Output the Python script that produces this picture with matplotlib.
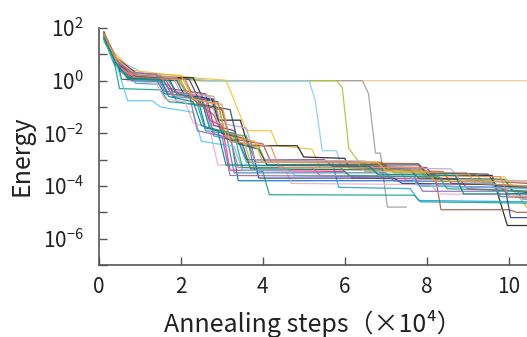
import numpy as np
import matplotlib
matplotlib.use("Agg")
import matplotlib.pyplot as plt
from matplotlib.ticker import FixedLocator, FuncFormatter

# Best energy of each annealing run: (steps x 1e4, log10 energy) breakpoints
run_01 = [(0.12, 1.7), (0.4, 0.9), (0.8, 0.3), (1.6, 0.1), (2.4, 0.0), (10.5, 0.0)]
run_02 = [(0.12, 1.75), (0.45, 0.6), (1.0, 0.15), (2.2, 0.05), (2.5, 0.0), (6.43, 0.0),
          (6.58, -0.49), (6.75, -2.75), (6.87, -2.75), (7.04, -4.8), (7.5, -4.8)]
run_03 = [(0.12, 1.6), (0.45, 0.7), (1.0, 0.2), (2.0, 0.1), (2.6, 0.0), (5.8, 0.0),
          (5.94, -0.27), (6.1, -2.58), (6.38, -3.15), (6.9, -3.2), (7.05, -3.4),
          (7.85, -3.45), (8.0, -3.7), (9.9, -3.75), (10.5, -4.9)]
run_04 = [(0.12, 1.7), (0.45, 0.8), (1.2, 0.2), (2.3, 0.08), (2.7, 0.0), (5.13, 0.0),
          (5.28, -0.76), (5.45, -2.66), (5.8, -2.66), (5.9, -3.2), (7.3, -3.3),
          (7.5, -3.8), (9.5, -3.85), (9.7, -4.1), (10.5, -4.1)]
run_05 = [(0.12, 1.85), (0.35, 1.1), (0.8, 0.4), (1.8, 0.2), (2.4, 0.1), (3.1, 0.02),
          (3.6, -1.9), (4.2, -1.9), (4.35, -2.47), (5.2, -2.6), (5.4, -3.3),
          (7.8, -3.35), (8.0, -3.6), (9.9, -3.65), (10.1, -4.0), (10.5, -4.05)]
run_06 = [(0.12, 1.85), (0.4, 0.6), (0.8, 0.15), (2.3, 0.11), (2.54, -0.68), (2.76, -0.72),
          (2.9, -1.5), (3.45, -1.5), (3.64, -2.47), (4.84, -2.47), (5.0, -2.9),
          (6.0, -2.95), (6.1, -3.3), (7.9, -3.35), (8.05, -3.6), (9.6, -3.6),
          (9.97, -5.5), (10.5, -5.5)]
run_07 = [(0.12, 1.7), (0.45, 0.5), (0.7, 0.1), (1.4, 0.05), (1.6, -0.5), (2.4, -0.6),
          (2.6, -1.8), (3.2, -2.0), (3.4, -3.8), (7.7, -3.8), (7.9, -4.0),
          (9.8, -4.05), (10.0, -4.3), (10.5, -4.3)]
run_08 = [(0.12, 1.6), (0.5, 0.4), (0.9, 0.2), (1.9, 0.1), (2.2, -0.6), (2.8, -1.3),
          (3.0, -2.0), (3.6, -2.2), (3.8, -3.0), (6.9, -3.1), (7.1, -3.4),
          (8.4, -3.45), (8.6, -3.9), (10.5, -4.0)]
run_09 = [(0.12, 1.8), (0.4, 0.9), (0.9, 0.3), (1.5, 0.2), (1.7, -0.3), (2.6, -0.5),
          (2.8, -1.7), (3.3, -1.9), (3.6, -3.0), (5.5, -3.0), (5.7, -3.25),
          (8.0, -3.3), (8.2, -3.7), (10.5, -3.9)]
run_10 = [(0.12, 1.5), (0.45, 0.6), (0.8, 0.1), (2.0, 0.0), (2.3, -0.9), (3.0, -1.1),
          (3.2, -2.3), (3.9, -2.5), (4.1, -3.2), (7.0, -3.2), (7.2, -3.5),
          (9.2, -3.55), (9.4, -3.9), (10.5, -4.1)]
run_11 = [(0.12, 1.7), (0.5, 0.4), (0.9, -0.1), (1.7, -0.15), (1.9, -0.8), (2.6, -1.0),
          (2.8, -2.1), (3.4, -2.3), (3.6, -3.1), (5.7, -3.1), (5.85, -4.05),
          (7.6, -4.1), (7.8, -4.55), (10.5, -4.6)]
run_12 = [(0.12, 1.65), (0.45, 0.6), (0.9, 0.15), (2.1, 0.05), (2.4, -0.9), (3.0, -1.1),
          (3.2, -2.2), (4.0, -2.4), (4.2, -3.1), (7.8, -3.15), (8.0, -3.5),
          (8.2, -3.55), (8.35, -4.9), (10.0, -4.9), (10.2, -5.0), (10.5, -5.0)]
run_13 = [(0.12, 1.6), (0.4, 0.5), (0.5, -0.3), (1.5, -0.35), (1.7, -0.8), (2.4, -0.9),
          (2.6, -1.9), (3.6, -2.1), (3.8, -3.4), (4.0, -3.45), (4.16, -4.33),
          (7.7, -4.35), (7.85, -4.6), (10.5, -4.65)]
run_14 = [(0.12, 1.75), (0.45, 0.7), (0.8, 0.2), (1.6, 0.1), (1.8, -0.4), (2.5, -0.6),
          (2.7, -1.5), (3.0, -1.7), (3.2, -3.4), (6.0, -3.45), (6.2, -3.7),
          (8.8, -3.75), (9.0, -4.1), (10.5, -4.2)]
run_15 = [(0.12, 1.7), (0.4, 0.8), (0.7, 0.0), (1.4, -0.1), (1.6, -0.7), (2.1, -0.8),
          (2.3, -1.6), (2.7, -1.8), (2.9, -3.2), (4.5, -3.25), (4.7, -3.9),
          (8.1, -3.95), (8.3, -4.3), (10.5, -4.35)]
run_16 = [(0.12, 1.6), (0.45, 0.7), (0.55, 0.05), (1.9, 0.0), (2.1, -0.6), (2.9, -0.8),
          (3.1, -2.2), (3.5, -2.4), (3.7, -3.35), (7.6, -3.4), (7.8, -3.7),
          (9.9, -3.75), (10.1, -4.2), (10.5, -4.25)]
run_17 = [(0.12, 1.8), (0.5, 0.6), (0.9, 0.2), (1.7, 0.1), (1.9, -0.5), (2.8, -0.7),
          (3.0, -2.0), (3.7, -2.3), (3.9, -3.7), (7.2, -3.7), (7.4, -3.9),
          (9.9, -3.95), (10.05, -5.2), (10.5, -5.2)]
run_18 = [(0.12, 1.7), (0.4, 0.9), (0.8, 0.25), (1.8, 0.15), (2.0, -0.5), (2.7, -0.6),
          (2.9, -1.6), (3.6, -1.8), (3.8, -3.0), (6.5, -3.05), (6.7, -3.3),
          (8.6, -3.35), (8.8, -3.75), (10.5, -3.8)]
run_19 = [(0.12, 1.8), (0.45, 0.7), (0.9, 0.2), (2.2, 0.05), (2.5, -0.9), (3.2, -1.1),
          (3.4, -2.4), (3.9, -2.6), (4.1, -3.2), (7.8, -3.2), (8.0, -3.5),
          (9.5, -3.55), (9.7, -4.0), (10.5, -4.05)]
run_20 = [(0.12, 1.65), (0.5, 0.5), (0.8, 0.0), (1.6, -0.05), (1.8, -0.6), (2.5, -0.7),
          (2.7, -1.8), (3.1, -2.0), (3.3, -3.5), (7.0, -3.5), (7.2, -3.8),
          (9.6, -3.85), (9.8, -4.4), (10.5, -4.45)]
run_21 = [(0.12, 1.7), (0.45, 0.6), (0.8, 0.1), (1.5, 0.05), (1.7, -0.5), (2.6, -0.7),
          (2.8, -2.0), (3.2, -2.2), (3.4, -3.3), (5.2, -3.3), (5.4, -3.6),
          (8.1, -3.65), (8.3, -4.0), (10.5, -4.1)]
run_22 = [(0.12, 1.8), (0.4, 0.9), (0.8, 0.3), (2.0, 0.2), (2.3, -0.7), (2.9, -0.9),
          (3.1, -2.1), (3.8, -2.3), (4.0, -3.1), (6.8, -3.1), (7.0, -3.4),
          (8.0, -3.45), (8.2, -3.8), (10.5, -3.85)]
run_23 = [(0.12, 1.6), (0.45, 0.5), (0.7, -0.76), (1.3, -0.76), (1.5, -1.0), (2.3, -1.2),
          (2.5, -2.3), (3.3, -2.5), (3.5, -3.4), (4.6, -3.4), (4.8, -3.6),
          (7.6, -3.65), (7.8, -4.0), (10.5, -4.1)]
run_24 = [(0.12, 1.7), (0.45, 0.7), (0.9, 0.2), (1.9, 0.1), (2.1, -0.4), (2.8, -0.6),
          (3.0, -1.9), (3.5, -2.1), (3.7, -3.1), (6.3, -3.1), (6.5, -3.45),
          (9.0, -3.5), (9.2, -3.9), (10.5, -4.0)]
run_25 = [(0.12, 1.75), (0.4, 0.8), (0.8, 0.3), (1.4, 0.25), (1.6, -0.4), (2.2, -0.5),
          (2.4, -1.9), (3.0, -2.1), (3.2, -3.6), (7.7, -3.65), (7.9, -4.2),
          (10.2, -4.2), (10.35, -4.5), (10.5, -4.5)]
run_26 = [(0.12, 1.6), (0.45, 0.6), (0.8, 0.05), (1.7, 0.0), (1.9, -0.5), (2.5, -0.7),
          (2.7, -1.8), (3.3, -2.0), (3.5, -3.3), (5.9, -3.3), (6.1, -3.6),
          (8.3, -3.65), (8.5, -4.1), (10.5, -4.2)]
run_27 = [(0.12, 1.7), (0.5, 0.5), (0.9, 0.1), (2.1, 0.05), (2.3, -0.7), (3.0, -0.9),
          (3.2, -2.3), (4.2, -2.5), (4.4, -3.3), (7.9, -3.3), (8.1, -3.6),
          (9.8, -3.65), (10.0, -4.4), (10.5, -4.4)]
run_28 = [(0.12, 1.65), (0.4, 0.7), (0.7, 0.1), (1.5, 0.05), (1.7, -0.6), (2.3, -0.8),
          (2.5, -1.7), (2.9, -1.9), (3.1, -3.2), (6.6, -3.25), (6.8, -3.55),
          (8.7, -3.6), (8.9, -4.3), (10.5, -4.3)]

runs = [run_01, run_02, run_03, run_04, run_05, run_06, run_07, run_08, run_09, run_10,
        run_11, run_12, run_13, run_14, run_15, run_16, run_17, run_18, run_19, run_20,
        run_21, run_22, run_23, run_24, run_25, run_26, run_27, run_28]

colors = ["#F6C38F", "#9B9B9B", "#A8C43A", "#8CCBF0", "#F5C33B", "#1A1A1A", "#0072BD",
          "#D95319", "#7E2F8E", "#77AC30", "#1CA6DF", "#A65A46", "#16A38A", "#E7298A",
          "#F4A9C9", "#0B6B3A", "#2B3990", "#B8A7D8", "#34495E", "#4A7FB5", "#C9679A",
          "#EDB120", "#5CC8F0", "#C89B6D", "#8C6BB1", "#2E9D6A", "#F08A5D", "#00838F"]

plt.rcParams['font.family'] = ['Noto Sans CJK JP', 'DejaVu Sans']
plt.rcParams['mathtext.fontset'] = 'custom'
plt.rcParams['mathtext.rm'] = 'Noto Sans CJK JP'
plt.rcParams['mathtext.it'] = 'Noto Sans CJK JP'
plt.rcParams['axes.unicode_minus'] = True

fig = plt.figure(figsize=(5.27, 3.37), dpi=100)
ax = fig.add_axes([99 / 527, 1 - 265 / 337, 1 - 99 / 527, (265 - 28) / 337])

for run, col in zip(runs, colors):
    steps = [p[0] for p in run]
    energy = [10.0 ** p[1] for p in run]
    ax.plot(steps, energy, color=col, lw=0.9, alpha=0.9)

ax.set_yscale('log')
ax.set_ylim(1e-7, 1e2)
ax.set_xlim(0, 10.45)

ax.yaxis.set_major_locator(FixedLocator([10.0 ** e for e in range(-7, 3)]))
ax.yaxis.set_minor_locator(FixedLocator([]))
ax.yaxis.set_major_formatter(FuncFormatter(
    lambda v, pos: r'$\mathregular{10^{%d}}$' % round(np.log10(v)) if round(np.log10(v)) % 2 == 0 else ''))
ax.set_xticks([0, 2, 4, 6, 8, 10])

for side in ['top', 'right']:
    ax.spines[side].set_visible(False)
for side in ['left', 'bottom']:
    ax.spines[side].set_color('#555555')
    ax.spines[side].set_linewidth(1.2)
ax.tick_params(direction='in', length=6, width=1, color='#555555', labelsize=15,
               labelcolor='#222222')
ax.tick_params(axis='x', pad=8)
ax.tick_params(axis='y', pad=11)

ax.set_ylabel('Energy', fontsize=18, color='#222222')
ax.yaxis.set_label_coords(-0.15, 0.46)
ax.set_xlabel('Annealing steps（×10⁴）', fontsize=18, color='#222222')
ax.xaxis.set_label_coords(0.5, -0.19)

plt.savefig('out.png', dpi=100)
